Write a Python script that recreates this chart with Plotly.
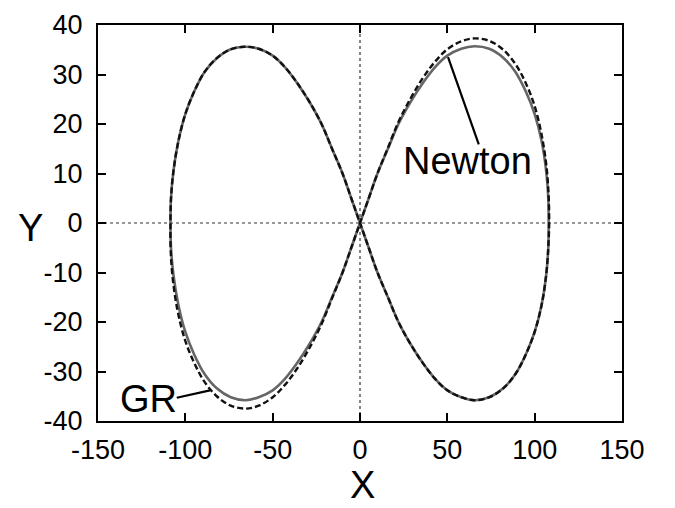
import plotly.graph_objects as go

# Newton orbit (solid gray); loop: origin -> right lobe -> origin -> left lobe
newton_x = [0, 5, 10, 16, 22, 29, 36, 43, 50, 58, 65.5, 74, 82, 89, 95, 100, 104, 106.6, 107.8, 108,
            107.8, 106.6, 104, 100, 95, 89, 82, 74, 65.5, 58, 50, 43, 36, 29, 22, 16, 10, 5, 0,
            -5, -10, -16, -22, -29, -36, -43, -50, -58, -66, -74, -82, -89, -95, -100, -104, -106.8, -108.2, -108.5,
            -108.2, -106.8, -104, -100, -95, -89, -82, -74, -65.5, -58, -50, -43, -36, -29, -22, -16, -10, -5, 0]
newton_y = [0, 5, 10, 15, 20, 24.5, 28.3, 31.5, 33.8, 35.2, 35.7, 35.2, 33.4, 30.5, 26.5, 22, 16.5, 10.5, 5, 0,
            -5, -10.5, -16.5, -22, -26.5, -30.5, -33.4, -35.2, -35.8, -35.2, -33.8, -31.5, -28.3, -24.5, -20, -15, -10, -5, 0,
            5, 10, 15, 20, 24.5, 28.3, 31.5, 33.8, 35.2, 35.6, 35.1, 33.3, 30.5, 26.5, 22, 16.5, 10.5, 5, 0,
            -5, -10.5, -16.5, -22, -26.5, -30.5, -33.4, -35.2, -35.8, -35.2, -33.8, -31.5, -28.3, -24.5, -20, -15, -10, -5, 0]

# GR orbit (dashed black): bulges out in the upper-right and lower-left quarters
gr_x = [0, 5, 10, 16, 22, 29, 36, 43, 50, 58, 65.5, 74, 82, 89, 95, 100, 104, 106.8, 108, 108.3,
        107.8, 106.6, 104, 100, 95, 89, 82, 74, 65.5, 58, 50, 43, 36, 29, 22, 16, 10, 5, 0,
        -5, -10, -16, -22, -29, -36, -43, -50, -58, -66, -74, -82, -89, -95, -100, -104, -106.8, -108.2, -108.5,
        -108.4, -107.2, -104.4, -100.2, -95, -89, -82, -74, -65.5, -58, -50, -43, -36, -29, -22, -16, -10, -5, 0]
gr_y = [0, 5, 10, 15.2, 20.4, 25.2, 29.3, 32.6, 35.1, 36.7, 37.3, 36.8, 35, 32.1, 28.2, 23.6, 17.8, 11.3, 5.4, 0,
        -5, -10.5, -16.5, -22, -26.5, -30.5, -33.4, -35.2, -35.8, -35.2, -33.8, -31.5, -28.3, -24.5, -20, -15, -10, -5, 0,
        5, 10, 15, 20, 24.5, 28.3, 31.5, 33.8, 35.2, 35.6, 35.1, 33.3, 30.5, 26.5, 22, 16.5, 10.5, 5, 0,
        -5.4, -11.3, -17.8, -23.6, -28.2, -32.1, -35, -36.9, -37.5, -36.9, -35.2, -32.7, -29.4, -25.3, -20.4, -15.2, -10, -5, 0]

x_ticks = [-150, -100, -50, 0, 50, 100, 150]
y_ticks = [-40, -30, -20, -10, 0, 10, 20, 30, 40]

# label texts and pointer segments
labels = ["Newton", "GR"]
label_pos = [(61.5, 12.5), (-121, -35.5)]
pointer_segments = [((68.0, 15.9), (50.4, 33.5)), ((-104.9, -35.3), (-85.9, -33.8))]

# axis titles, positioned in plot-area fractions
axis_titles = ["X", "Y"]
axis_title_pos = [(0.5057, -0.162), (-0.1286, 0.4874)]

FONT = "Liberation Sans, Arial, Helvetica, sans-serif"

fig = go.Figure()
fig.add_trace(go.Scatter(x=newton_x, y=newton_y, mode="lines", name="Newton",
                         line=dict(color="#666666", width=2.6, shape="spline", smoothing=1.0)))
fig.add_trace(go.Scatter(x=gr_x, y=gr_y, mode="lines", name="GR",
                         line=dict(color="#111111", width=2.4, dash="6px,3px", shape="spline", smoothing=1.0)))

# dotted zero axes
fig.add_shape(type="line", x0=-150, x1=150, y0=0, y1=0, xref="x", yref="y",
              line=dict(color="#333333", width=1.2, dash="dot"), layer="below")
fig.add_shape(type="line", x0=0, x1=0, y0=-40, y1=40, xref="x", yref="y",
              line=dict(color="#333333", width=1.2, dash="dot"), layer="below")

for (p0, p1) in pointer_segments:
    fig.add_shape(type="line", x0=p0[0], y0=p0[1], x1=p1[0], y1=p1[1], xref="x", yref="y",
                  line=dict(color="black", width=2.2))

for txt, (lx, ly) in zip(labels, label_pos):
    fig.add_annotation(x=lx, y=ly, text=txt, showarrow=False, xref="x", yref="y",
                       font=dict(family=FONT, size=38, color="black"))

for txt, (lx, ly) in zip(axis_titles, axis_title_pos):
    fig.add_annotation(x=lx, y=ly, text=txt, showarrow=False, xref="paper", yref="paper",
                       xanchor="center", yanchor="middle", borderpad=0,
                       font=dict(family=FONT, size=38, color="black"))

axis_common = dict(showline=True, linecolor="black", linewidth=2, mirror="ticks",
                   ticks="inside", ticklen=8, tickwidth=1.5, tickcolor="black",
                   showgrid=False, zeroline=False, automargin=False,
                   tickfont=dict(family=FONT, size=27, color="black"))

fig.update_xaxes(range=[-150, 150], tickvals=x_ticks, ticktext=[str(v) for v in x_ticks],
                 ticklabelstandoff=4, **axis_common)
fig.update_yaxes(range=[-40, 40], tickvals=y_ticks, ticktext=[str(v) for v in y_ticks],
                 ticklabelstandoff=8, **axis_common)

fig.update_layout(width=667, height=500, showlegend=False,
                  plot_bgcolor="white", paper_bgcolor="white",
                  margin=dict(l=89.5, r=52.5, t=16.6, b=86.6))

fig.write_html("out.html")
